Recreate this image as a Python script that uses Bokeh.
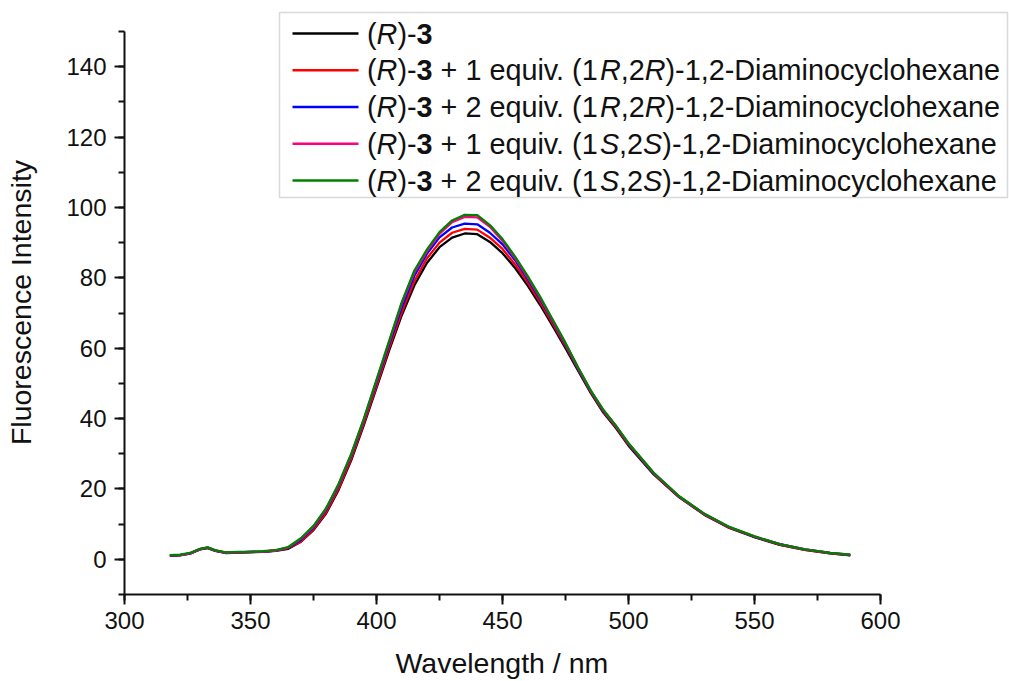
from bokeh.plotting import figure
from bokeh.models import Range1d, SingleIntervalTicker, BoxAnnotation, Label, Arrow, Title
from bokeh.embed import file_html
from bokeh.resources import INLINE

# ---------------- data ----------------
wavelength = [318, 322, 326, 330, 333, 336, 340, 345, 350, 355, 360, 365,
              370, 375, 380, 385, 390, 395, 400, 405, 410, 415, 420, 425,
              430, 435, 440, 445, 450, 455, 460, 465, 470, 475, 480, 485,
              490, 495, 500, 510, 520, 530, 540, 550, 560, 570, 580, 588]

r3 = [1.0, 1.1, 1.6, 2.8, 3.2, 2.4, 1.8, 1.9, 2.0, 2.1, 2.4, 3.0,
      5.0, 8.3, 13.0, 19.8, 28.2, 38.2, 48.7, 59.3, 69.3, 77.8, 84.2, 88.7,
      91.4, 92.6, 92.4, 90.2, 87.0, 82.8, 77.8, 72.2, 66.2, 60.0, 53.6, 47.3,
      41.7, 37.3, 32.3, 24.1, 17.7, 12.7, 8.9, 6.3, 4.1, 2.7, 1.7, 1.1]

r3_1eq_RR = [1.1, 1.2, 1.7, 2.9, 3.3, 2.5, 1.9, 2.0, 2.1, 2.2, 2.5, 3.2,
             5.0, 8.5, 13.3, 20.2, 28.7, 38.7, 49.2, 60.0, 70.2, 79.0, 85.5, 90.0,
             92.8, 93.9, 93.7, 91.4, 88.2, 83.8, 78.7, 73.0, 66.9, 60.6, 54.0, 47.6,
             42.0, 37.6, 32.6, 24.3, 17.8, 12.8, 9.0, 6.4, 4.2, 2.7, 1.7, 1.2]

r3_2eq_RR = [1.1, 1.2, 1.7, 2.9, 3.3, 2.5, 1.9, 2.0, 2.1, 2.2, 2.5, 3.3,
             5.5, 9.0, 14.0, 21.0, 29.5, 39.5, 50.2, 61.0, 71.5, 80.5, 86.8, 91.5,
             94.3, 95.4, 95.2, 92.8, 89.5, 85.0, 79.6, 73.8, 67.5, 61.0, 54.2, 47.8,
             42.2, 37.8, 32.8, 24.4, 17.9, 12.9, 9.1, 6.4, 4.3, 2.8, 1.8, 1.2]

r3_1eq_SS = [1.1, 1.2, 1.7, 2.9, 3.3, 2.5, 1.9, 2.0, 2.1, 2.2, 2.5, 3.4,
             5.8, 9.3, 14.3, 21.3, 29.8, 39.8, 50.7, 61.7, 72.6, 81.5, 87.5, 92.5,
             95.8, 97.3, 97.2, 94.5, 90.5, 85.6, 80.1, 74.2, 67.8, 61.3, 54.4, 47.9,
             42.4, 37.9, 32.9, 24.5, 17.9, 12.9, 9.1, 6.5, 4.3, 2.8, 1.8, 1.3]

r3_2eq_SS = [1.2, 1.3, 1.8, 3.0, 3.4, 2.6, 2.0, 2.1, 2.1, 2.3, 2.6, 3.5,
             6.0, 9.5, 14.5, 21.5, 30.0, 40.0, 51.0, 62.0, 73.0, 82.0, 88.0, 93.0,
             96.3, 97.9, 97.8, 95.0, 91.0, 86.0, 80.5, 74.5, 68.0, 61.5, 54.5, 48.0,
             42.5, 38.0, 33.0, 24.6, 18.0, 13.0, 9.2, 6.5, 4.3, 2.8, 1.8, 1.3]

series = [r3, r3_1eq_RR, r3_2eq_RR, r3_1eq_SS, r3_2eq_SS]
series_colors = ["#000000", "#ff0000", "#0000ff", "#ff0080", "#008000"]

base_label = [("(", "normal"), ("R", "italic"), (")-", "normal"), ("3", "bold")]
def reagent(eq, c):
    return [(" + %s equiv. (1" % eq, "normal"), (c, "italic"), (",2", "normal"),
            (c, "italic"), (")-1,2-Diaminocyclohexane", "normal")]
legend_labels = [base_label,
                 base_label + reagent("1", "R"),
                 base_label + reagent("2", "R"),
                 base_label + reagent("1", "S"),
                 base_label + reagent("2", "S")]

x_axis_bounds = (300, 600)
y_axis_bounds = (-10, 150)
x_ticks_interval = 50
y_ticks_interval = 20
x_title = "Wavelength / nm"
y_title = "Fluorescence Intensity"

# ---------------- pixel <-> data mapping of the plotting area ----------------
PX_X0, PX_X1 = 124, 880      # pixel x of 300 and 600
PX_Y0, PX_Y1 = 594, 31       # pixel y of -10 and 150
def dx(px):
    return x_axis_bounds[0] + (px - PX_X0) * (x_axis_bounds[1] - x_axis_bounds[0]) / (PX_X1 - PX_X0)
def dy(py):
    return y_axis_bounds[0] + (PX_Y0 - py) * (y_axis_bounds[1] - y_axis_bounds[0]) / (PX_Y0 - PX_Y1)

FRAME_RIGHT_PX, FRAME_TOP_PX = 1009, 10

# ---------------- figure ----------------
FONT = "Liberation Sans"
p = figure(frame_width=FRAME_RIGHT_PX - PX_X0, frame_height=PX_Y0 - FRAME_TOP_PX,
           output_backend="svg", toolbar_location=None,
           x_range=Range1d(x_axis_bounds[0], dx(FRAME_RIGHT_PX)),
           y_range=Range1d(y_axis_bounds[0], dy(FRAME_TOP_PX)),
           min_border_left=PX_X0, min_border_right=0, min_border_top=FRAME_TOP_PX,
           min_border_bottom=681 - PX_Y0)
p.outline_line_color = None
p.grid.visible = False
p.background_fill_color = "white"
p.border_fill_color = "white"

p.xaxis.ticker = SingleIntervalTicker(interval=x_ticks_interval, num_minor_ticks=2)
p.yaxis.ticker = SingleIntervalTicker(interval=y_ticks_interval, num_minor_ticks=2)
p.xaxis.bounds = x_axis_bounds
p.yaxis.bounds = y_axis_bounds
p.yaxis.axis_label = y_title
for ax in (p.xaxis, p.yaxis):
    ax.axis_label_text_font = FONT
    ax.axis_label_text_font_size = "28.5px"
    ax.axis_label_text_font_style = "normal"
    ax.axis_label_text_color = "#111111"
    ax.major_label_text_font = FONT
    ax.major_label_text_font_size = "24px"
    ax.major_label_text_color = "#111111"
    ax.axis_line_width = 2
    ax.axis_line_color = "#111111"
    ax.major_tick_line_width = 2
    ax.minor_tick_line_width = 2
    ax.major_tick_line_color = "#111111"
    ax.minor_tick_line_color = "#111111"
    ax.major_tick_in = 0
    ax.major_tick_out = 10
    ax.minor_tick_in = 0
    ax.minor_tick_out = 6
p.xaxis.major_label_standoff = 7
p.yaxis.major_label_standoff = 8
p.yaxis.axis_label_standoff = 26

# x axis title: centred under the 300-600 axis (the frame is wider because of the legend)
p.add_layout(Title(text=x_title, align="left", offset=395 - PX_X0, standoff=26,
                   text_font=FONT, text_font_size="28.5px", text_font_style="normal",
                   text_color="#111111"), "below")

for ys, c in zip(series, series_colors):
    p.line(wavelength, ys, line_color=c, line_width=2.3)

# ---------------- legend (drawn manually for mixed italic/bold text) ----------------
ARIAL_W = {'(': 333, ')': 333, 'R': 722, 'S': 667, '-': 333, '3': 556, ' ': 278,
           '+': 584, '1': 556, '2': 556, 'e': 556, 'q': 556, 'u': 556, 'i': 222,
           'v': 500, '.': 278, ',': 278, 'D': 722, 'a': 556, 'm': 833, 'n': 556,
           'o': 556, 'c': 500, 'y': 500, 'l': 222, 'h': 556, 'x': 500}
LEG_FS = 28.8
def tw(s):
    return sum(ARIAL_W.get(ch, 556) for ch in s) * LEG_FS / 1000.0

p.add_layout(BoxAnnotation(left=dx(279), right=dx(1007), top=dy(12), bottom=dy(197),
                           fill_color="white", fill_alpha=1.0,
                           line_color="#808080", line_width=1.5))

row0, row_step = 33.0, 36.75
for i, (parts, c) in enumerate(zip(legend_labels, series_colors)):
    yc = row0 + i * row_step
    p.add_layout(Arrow(end=None, x_start=dx(292), x_end=dx(358),
                       y_start=dy(yc), y_end=dy(yc), line_color=c, line_width=2.5))
    xpos = 366.5
    for text, style in parts:
        lead = len(text) - len(text.lstrip(" "))
        stripped = text.strip(" ")
        p.add_layout(Label(x=dx(xpos + tw(" " * lead)), y=dy(yc), text=stripped,
                           text_font=FONT, text_font_size="%gpx" % LEG_FS,
                           text_font_style=style, text_baseline="middle",
                           text_align="left", text_color="#111111"))
        xpos += tw(text)

open("out.html", "w").write(file_html(p, INLINE))
